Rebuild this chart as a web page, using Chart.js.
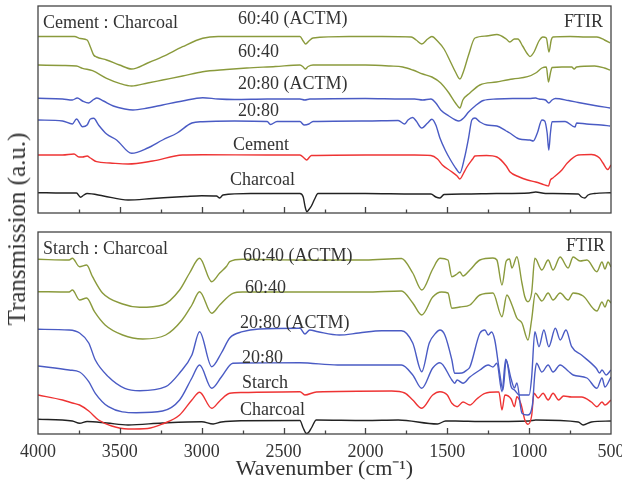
<!DOCTYPE html>
<html><head><meta charset="utf-8">
<script src="https://cdn.jsdelivr.net/npm/chart.js@4"></script>
<style>
html,body{margin:0;padding:0;background:#fff;}
#wrap{position:relative;width:622px;height:496px;overflow:hidden;font-family:"Liberation Serif","Times New Roman",serif;color:#333;}
canvas{position:absolute;left:0;top:0;}
.lab{position:absolute;font-size:18px;line-height:20px;white-space:nowrap;color:#333;}
#ytitle{position:absolute;font-size:25px;line-height:28px;white-space:nowrap;transform:translate(-50%,-50%) rotate(-90deg);left:17px;top:229px;color:#333;}
</style></head>
<body><div id="wrap">
<canvas id="c1" width="622" height="496"></canvas>
<canvas id="c2" width="622" height="496"></canvas>
<div id="ytitle">Transmission (a.u.)</div>
<div class="lab" style="left:43px;top:12px">Cement : Charcoal</div>
<div class="lab" style="left:564px;top:11px">FTIR</div>
<div class="lab" style="left:238px;top:8px">60:40 (ACTM)</div>
<div class="lab" style="left:238px;top:41px">60:40</div>
<div class="lab" style="left:238px;top:73px">20:80 (ACTM)</div>
<div class="lab" style="left:238px;top:100px">20:80</div>
<div class="lab" style="left:233px;top:134px">Cement</div>
<div class="lab" style="left:230px;top:169px">Charcoal</div>
<div class="lab" style="left:43px;top:238px">Starch : Charcoal</div>
<div class="lab" style="left:566px;top:235px">FTIR</div>
<div class="lab" style="left:243px;top:245px">60:40 (ACTM)</div>
<div class="lab" style="left:245px;top:277px">60:40</div>
<div class="lab" style="left:240px;top:312px">20:80 (ACTM)</div>
<div class="lab" style="left:242px;top:347px">20:80</div>
<div class="lab" style="left:242px;top:372px">Starch</div>
<div class="lab" style="left:240px;top:399px">Charcoal</div>
</div>
<script>
// x ticks (wavenumber, cm-1)
const xTickValues = [4000, 3500, 3000, 2500, 2000, 1500, 1000, 500];

// ---- Cement : Charcoal panel, [wavenumber, transmission offset] ----
const cement6040ACTM = [[4000,176.5],[3850,176.5],[3777,176.5],[3740,174.5],[3700,173],[3680,166],[3660,158],[3642,156],[3581,153],[3502,148],[3428,144],[3330,150],[3239,156.3],[3117,166.3],[2994,174.7],[2900,176.5],[2600,176.5],[2400,176.5],[2380,172],[2365,169],[2345,172],[2320,175],[2100,176.5],[1900,176.5],[1720,176],[1690,173],[1656,169],[1620,174],[1594,176.5],[1560,172],[1520,164],[1480,151],[1450,141],[1423,134],[1400,142],[1370,158],[1331,175],[1260,177],[1197,178.5],[1140,174],[1118,171],[1090,174],[1069,174],[1040,167],[1010,159],[995,156.5],[970,161],[940,172],[916,176],[895,175],[879,161],[865,173],[855,176],[750,176.5],[650,176],[586,176],[540,173],[506,170]];
const cement6040 = [[4000,148],[3850,147.5],[3765,147],[3728,144.7],[3667,142.3],[3581,134.7],[3502,129.7],[3428,127],[3330,130],[3239,133],[3117,137],[2994,141.3],[2850,143.5],[2725,145],[2550,146.5],[2400,148],[2380,146],[2368,144],[2350,146.5],[2320,148],[2000,148],[1850,147],[1772,146],[1711,143],[1650,139],[1594,136],[1540,130],[1490,120],[1450,110],[1423,105],[1405,113],[1362,120],[1301,128],[1200,131],[1100,134],[1010,136.3],[960,140],[922,145],[895,146],[882,131],[870,140],[860,145.5],[800,146],[740,146],[725,144],[710,146],[600,147],[540,145],[506,143]];
const cement2080ACTM = [[4000,114.7],[3850,114],[3790,113],[3760,115],[3728,112],[3690,110],[3660,113.5],[3640,115],[3600,112],[3540,107],[3470,104],[3420,103],[3330,105],[3239,108],[3117,112],[2994,115.3],[2900,114],[2800,113.5],[2600,114],[2400,114],[2370,113],[2340,114],[2000,114.5],[1772,114],[1700,114],[1650,113],[1600,114],[1570,110],[1540,103],[1490,97],[1450,93],[1430,92],[1400,95],[1370,101],[1330,107],[1280,112.5],[1200,114],[1100,114.5],[1000,114.5],[960,115],[940,114],[900,113],[880,110],[860,113],[840,114.5],[760,112.5],[700,110.5],[600,107.5],[506,105]];
const cement2080 = [[4000,93],[3850,92],[3790,89],[3765,94],[3728,86.3],[3700,88],[3680,94],[3660,94.7],[3630,88],[3581,79],[3520,73],[3428,59.7],[3330,65],[3239,73],[3150,80],[3060,90],[2994,91.3],[2800,92],[2600,91.5],[2580,88.5],[2540,91.5],[2400,91.5],[2375,88],[2345,89],[2320,91.5],[2000,92],[1800,92.5],[1760,89],[1740,93],[1711,95.5],[1690,92],[1656,85],[1620,90],[1594,93.7],[1570,88],[1545,75],[1510,62],[1480,53],[1445,44],[1423,40],[1395,55],[1370,75],[1350,93],[1331,95],[1300,91],[1258,88],[1197,87],[1140,82],[1118,80],[1060,74],[995,73],[975,72],[950,80],[922,93],[905,92],[890,80],[880,63],[870,80],[860,91.3],[780,91.5],[720,86],[710,90],[650,89],[560,88],[506,87]];
const cementRaw = [[4000,58],[3850,58],[3780,59],[3750,56],[3728,56],[3700,57],[3680,55],[3642,51.3],[3560,50],[3450,49],[3300,52],[3117,58],[2994,58.3],[2600,58],[2400,58],[2375,55],[2360,53],[2330,57.5],[2000,58],[1700,58],[1600,57.5],[1560,54],[1530,48],[1480,42],[1440,37],[1423,34],[1400,40],[1380,46],[1345,54],[1331,57],[1260,57.5],[1197,56],[1140,47],[1118,41.3],[1060,36],[1010,33],[960,31],[922,29],[895,27.5],[882,27],[870,33],[855,35],[800,43],[767,50],[700,58],[620,58.5],[600,58],[570,55],[549,50],[520,43.5],[500,48]];
const cementCharcoal = [[4000,20.3],[3850,20],[3765,20],[3740,15.7],[3720,18],[3700,19.5],[3600,17],[3450,13],[3300,14.5],[3100,16.5],[3000,17.3],[2910,17],[2890,15],[2870,18],[2700,19.5],[2400,19.5],[2380,16],[2368,6],[2358,1.3],[2345,3.5],[2330,7],[2310,14],[2290,19.5],[2000,19.5],[1700,19],[1600,19],[1570,16],[1545,15],[1520,18.5],[1400,19],[1200,19.5],[1000,20],[960,21],[900,19.5],[700,19],[680,16],[660,15],[640,18],[600,19.5],[500,20.3]];

// ---- Starch : Charcoal panel ----
const starch6040ACTM = [[4000,173.7],[3810,173],[3790,174.7],[3746,166.3],[3703,168],[3667,156.3],[3606,140],[3483,129],[3379,125.7],[3239,128],[3135,143],[3074,160],[3013,174.7],[2939,151.3],[2890,160],[2848,166.7],[2829,171.3],[2750,173.7],[2400,173],[2000,173],[1780,174.5],[1711,160],[1656,143],[1589,164],[1545,174.7],[1496,173],[1472,156.3],[1440,159],[1423,161],[1404,157],[1362,163],[1301,173],[1221,175],[1197,173],[1166,148],[1140,172],[1120,174],[1105,165],[1075,176.3],[1044,150],[1026,136],[1007,131.3],[985,140],[965,174.7],[922,163],[884,173],[854,163],[811,176],[762,165],[731,176],[689,172],[647,173],[586,161.3],[555,171],[537,164],[518,171],[500,166]];
const starch6040 = [[4000,141.3],[3810,141],[3790,143],[3746,133],[3703,135],[3655,121.3],[3590,108],[3483,98],[3360,94],[3220,98],[3120,113],[3060,128],[3013,141.3],[2939,119.7],[2890,128],[2810,139.7],[2750,141],[2000,141],[1780,142],[1711,130],[1656,118],[1589,136],[1535,141],[1496,140],[1472,124.7],[1423,126],[1362,128],[1301,138],[1221,140],[1166,116.3],[1136,138],[1105,128],[1075,115],[1044,110],[1007,93],[985,113],[962,139.7],[922,132],[884,140],[854,133],[811,140],[762,133],[731,140],[670,137],[586,122],[555,131],[537,126],[518,133],[500,130]];
const starch2080ACTM = [[4000,103.7],[3810,103],[3746,100],[3690,90],[3650,73],[3570,56.3],[3470,44.7],[3379,42.3],[3220,46.3],[3135,60],[3060,78],[3013,101.3],[2939,66.3],[2880,80],[2829,95],[2750,101.3],[2650,104],[2400,104.7],[2370,99],[2340,103],[2290,101.3],[2160,98],[2040,100],[1900,102.3],[1780,102.3],[1711,90],[1656,61.3],[1610,90],[1570,100],[1545,103],[1515,98],[1472,73],[1455,59.7],[1410,60],[1380,63],[1362,66],[1301,99.7],[1270,103],[1250,98],[1230,101],[1210,93],[1180,60],[1160,43],[1140,73],[1110,46.3],[1090,43],[1060,38],[1030,38],[1000,38],[985,55],[965,101.3],[940,86.3],[910,103],[880,86.3],[840,104.7],[810,93],[775,103],[740,86.3],[680,78],[590,64.7],[570,60],[555,63],[530,58],[500,63]];
const starch2080 = [[4000,67],[3810,63],[3746,61],[3690,51.3],[3650,39.7],[3570,26.3],[3400,20.3],[3239,22],[3135,33],[3060,55],[3013,68],[2939,44.7],[2880,56],[2810,69.7],[2750,70],[2400,70.3],[2170,68],[1900,68],[1780,68],[1711,58],[1656,44.7],[1589,65],[1545,70.3],[1472,53],[1455,49.7],[1440,53],[1404,49.7],[1362,56],[1301,63],[1250,68],[1221,66],[1197,69.7],[1166,41.3],[1143,73.7],[1110,54],[1090,45],[1075,50],[1044,19.7],[1010,18],[980,28],[965,59.7],[955,69.7],[922,61],[884,68],[854,61],[811,68],[762,62],[731,58],[647,55],[586,44.7],[555,55],[537,46],[500,56]];
const starchRaw = [[4000,38],[3850,33],[3790,30],[3746,28],[3690,22],[3630,13],[3550,7],[3450,4],[3330,4.5],[3240,9],[3135,18],[3060,33],[3013,40.7],[2939,24.7],[2890,32],[2829,39.7],[2750,40.5],[2400,41.3],[2370,38],[2300,41],[1840,42],[1760,40],[1711,33],[1656,24.7],[1589,38],[1545,41.3],[1500,38],[1472,29.7],[1440,26.3],[1404,31],[1362,28],[1320,34],[1270,39.7],[1200,41],[1185,41],[1166,23],[1148,38],[1110,34],[1090,26.3],[1075,36.3],[1050,29],[1026,13],[1007,8.7],[985,17],[970,39.7],[945,35],[915,39.7],[884,33],[854,39.7],[820,33],[790,37],[740,36],[680,36],[620,31],[586,26.3],[555,31],[537,28],[500,33]];
const starchCharcoal = [[4000,13.7],[3790,12],[3746,9.7],[3700,11.5],[3580,10],[3450,8],[3240,10],[3000,11.3],[2930,9],[2880,11],[2760,12.3],[2400,12.5],[2380,5],[2360,-0.5],[2345,1],[2330,5],[2300,13],[2000,12.5],[1800,13],[1560,9],[1510,12],[1450,12],[1300,11.5],[1000,12],[960,13],[700,11],[670,8],[620,11],[500,12]];

const GREEN = '#8a9a3c', BLUE = '#4a5bc4', RED = '#ee3333', BLACK = '#222222';

function ds(arr, color) {
  return { data: arr.map(p => ({x: p[0], y: p[1]})), borderColor: color, borderWidth: 1.4,
           pointRadius: 0, fill: false, cubicInterpolationMode: 'monotone' };
}

const framePlugin = {
  id: 'frame',
  afterDatasetsDraw(chart) {
    const {ctx, chartArea: a, scales: {x}} = chart;
    ctx.save();
    ctx.strokeStyle = '#444'; ctx.lineWidth = 1.3;
    ctx.strokeRect(a.left, a.top, a.right - a.left, a.bottom - a.top);
    ctx.beginPath();
    for (let v = 750; v <= 3750; v += 250) {
      const px = Math.round(x.getPixelForValue(v)) + 0.5;
      const len = v % 500 === 0 ? 6 : 3.5;
      ctx.moveTo(px, a.bottom); ctx.lineTo(px, a.bottom - len);
    }
    ctx.stroke();
    ctx.restore();
  }
};

function makeChart(id, datasets, yMin, yMax, padding, showAxis) {
  const xScale = {
    type: 'linear', reverse: true, min: 500, max: 4000, display: showAxis,
    afterBuildTicks: s => { s.ticks = xTickValues.map(v => ({value: v})); },
    grid: {display: false, drawTicks: false}, border: {display: false},
    ticks: {font: {family: 'Liberation Serif', size: 18}, color: '#333', padding: 7,
            maxRotation: 0, autoSkip: false, callback: v => String(v)},
    title: {display: true, text: 'Wavenumber (cm\u207B\u00B9)', color: '#333',
            font: {family: 'Liberation Serif', size: 22}, padding: {top: 0, bottom: 14}}
  };
  if (showAxis) {
    xScale.afterFit = s => { s.height = 62; s.paddingLeft = 0; s.paddingRight = 0; };
  }
  return new Chart(document.getElementById(id), {
    type: 'line',
    data: {datasets},
    options: {
      responsive: false, animation: false, devicePixelRatio: 1, events: [],
      layout: {padding},
      plugins: {legend: {display: false}, tooltip: {enabled: false}},
      scales: {x: xScale, y: {type: 'linear', display: false, min: yMin, max: yMax}}
    },
    plugins: [framePlugin]
  });
}

makeChart('c1', [
  ds(cement6040ACTM, GREEN), ds(cement6040, GREEN), ds(cement2080ACTM, BLUE),
  ds(cement2080, BLUE), ds(cementRaw, RED), ds(cementCharcoal, BLACK)
], 0, 207, {left: 38, right: 11, top: 6, bottom: 283}, false);

makeChart('c2', [
  ds(starch6040ACTM, GREEN), ds(starch6040, GREEN), ds(starch2080ACTM, BLUE),
  ds(starch2080, BLUE), ds(starchRaw, RED), ds(starchCharcoal, BLACK)
], -1, 201, {left: 38, right: 11, top: 232, bottom: 0}, true);
</script>
</body></html>
